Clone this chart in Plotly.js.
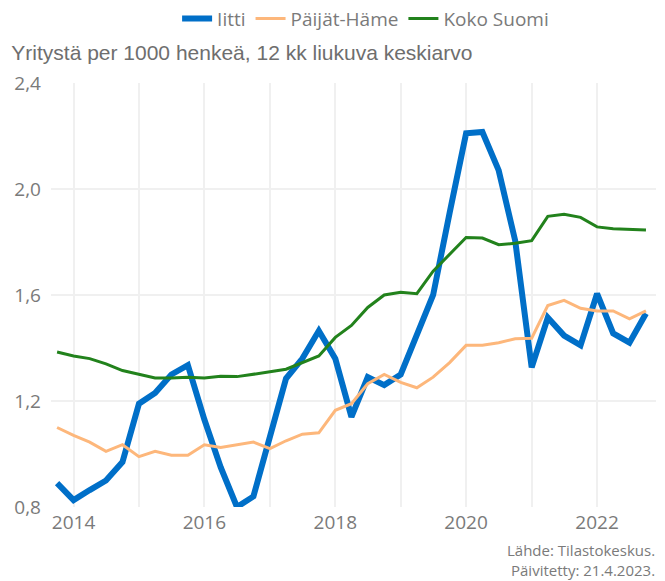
<!DOCTYPE html>
<html>
<head>
<meta charset="utf-8">
<script src="https://cdn.plot.ly/plotly-3.0.1.min.js"></script>
<style>html,body{margin:0;padding:0;background:#fff;}#chart{width:665px;height:581px;}</style>
</head>
<body>
<div id="chart"></div>
<script>
const dates = [
  '2013-10-01','2014-01-01','2014-04-01','2014-07-01','2014-10-01',
  '2015-01-01','2015-04-01','2015-07-01','2015-10-01',
  '2016-01-01','2016-04-01','2016-07-01','2016-10-01',
  '2017-01-01','2017-04-01','2017-07-01','2017-10-01',
  '2018-01-01','2018-04-01','2018-07-01','2018-10-01',
  '2019-01-01','2019-04-01','2019-07-01','2019-10-01',
  '2020-01-01','2020-04-01','2020-07-01','2020-10-01',
  '2021-01-01','2021-04-01','2021-07-01','2021-10-01',
  '2022-01-01','2022-04-01','2022-07-01','2022-10-01'
];
const iitti = [0.89,0.826,0.864,0.90,0.97,1.19,1.23,1.30,1.335,1.13,0.95,0.80,0.84,1.06,1.285,1.36,1.465,1.36,1.14,1.29,1.26,1.30,1.45,1.60,1.91,2.21,2.215,2.07,1.805,1.327,1.515,1.447,1.41,1.605,1.455,1.42,1.53];
const paijatHame = [1.10,1.07,1.045,1.01,1.035,0.99,1.01,0.995,0.995,1.035,1.025,1.035,1.045,1.02,1.05,1.075,1.08,1.165,1.19,1.265,1.30,1.27,1.25,1.29,1.345,1.41,1.41,1.42,1.435,1.437,1.56,1.58,1.55,1.54,1.54,1.51,1.54];
const kokoSuomi = [1.385,1.37,1.36,1.34,1.315,1.30,1.287,1.287,1.29,1.287,1.293,1.292,1.30,1.31,1.32,1.345,1.37,1.44,1.485,1.553,1.60,1.61,1.605,1.69,1.755,1.817,1.815,1.79,1.795,1.805,1.897,1.905,1.893,1.857,1.85,1.848,1.845];
const seriesNames = ['Iitti','Päijät-Häme','Koko Suomi'];
const yTicks = [0.8,1.2,1.6,2.0,2.4];
const xTicks = ['2014-01-01','2016-01-01','2018-01-01','2020-01-01','2022-01-01'];
const xTickLabels = ['2014','2016','2018','2020','2022'];

const labelFont = {family:'Open Sans, sans-serif', size:19, color:'#7a7a7a'};

const traces = [
  {x:dates, y:iitti, name:seriesNames[0], type:'scatter', mode:'lines', line:{color:'#006fc8', width:6}},
  {x:dates, y:paijatHame, name:seriesNames[1], type:'scatter', mode:'lines', line:{color:'#fdb77b', width:3}},
  {x:dates, y:kokoSuomi, name:seriesNames[2], type:'scatter', mode:'lines', line:{color:'#22821c', width:3}}
];

const layout = {
  width:665, height:581,
  margin:{l:51, r:9, t:83, b:74, autoexpand:false},
  paper_bgcolor:'#ffffff', plot_bgcolor:'#ffffff',
  separators:',.',
  showlegend:true,
  legend:{orientation:'h', x:0.52, xanchor:'center', y:1.152, yanchor:'middle',
          font:{family:'Open Sans, sans-serif', size:19, color:'#7a7a7a'}, itemwidth:30, traceorder:'normal'},
  title:{text:'Yritystä per 1000 henkeä, 12 kk liukuva keskiarvo', x:0.017, xanchor:'left', xref:'container',
         y:0.91, yanchor:'middle', yref:'container',
         font:{family:'Liberation Sans, Arial, sans-serif', size:21, color:'#6e6e6e'}},
  xaxis:{type:'date', range:['2013-08-28','2022-11-26'], tickvals:xTicks, ticktext:xTickLabels,
         showgrid:true, gridcolor:'#f0f0f0', gridwidth:2, zeroline:false, showline:false,
         ticks:'', tickfont:labelFont, ticklabelstandoff:2,
         minor:{dtick:'M12', tick0:'2014-01-01', showgrid:true, gridcolor:'#f0f0f0', gridwidth:2}},
  yaxis:{range:[0.8,2.4], tickvals:yTicks, tickformat:'.1f', showgrid:true, gridcolor:'#f0f0f0', gridwidth:2,
         zeroline:false, showline:false, ticks:'', tickfont:labelFont, ticklabelstandoff:9},
  annotations:[
    {text:'Lähde: Tilastokeskus.<br>Päivitetty: 21.4.2023.', xref:'paper', yref:'paper', x:1.002, y:-0.072,
     xanchor:'right', yanchor:'top', align:'right', showarrow:false,
     font:{family:'Open Sans, sans-serif', size:15, color:'#7a7a7a'}}
  ]
};
Plotly.newPlot('chart', traces, layout, {displayModeBar:false, staticPlot:true});
</script>
</body>
</html>
